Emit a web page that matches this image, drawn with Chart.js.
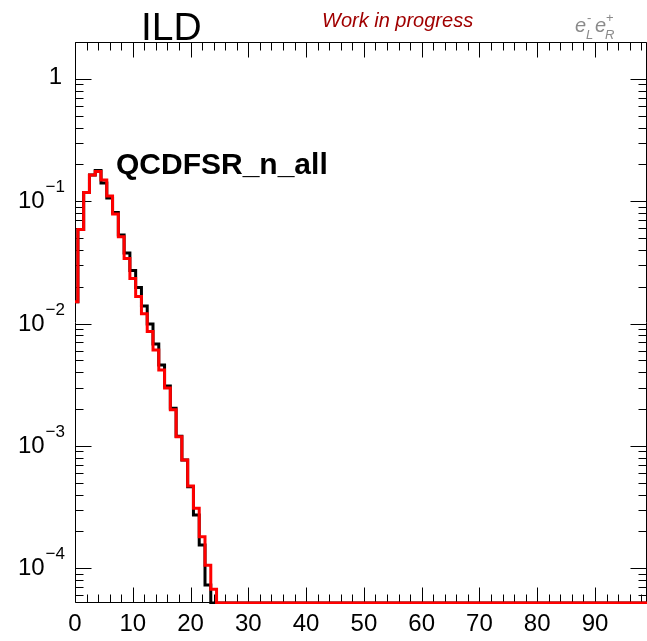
<!DOCTYPE html>
<html>
<head>
<meta charset="utf-8">
<script src="https://cdn.jsdelivr.net/npm/chart.js@4.4.1/dist/chart.umd.min.js"></script>
<style>
  html, body { margin: 0; padding: 0; background: #ffffff; }
  #wrap { width: 647px; height: 641px; position: relative; }
</style>
</head>
<body>
<div id="wrap"><canvas id="c" width="647" height="641"></canvas></div>
<script>
// Multiplicity n (bin centres, unit-width bins)
const binN = [0, 1, 2, 3, 4, 5, 6, 7, 8, 9, 10, 11, 12, 13, 14, 15, 16, 17, 18, 19, 20, 21, 22, 23, 24, 25];

// Normalised entries per bin, red histogram
const redValues = [
  0.0151, 0.0586, 0.118, 0.164, 0.1746, 0.149, 0.110, 0.0787, 0.0511, 0.0340,
  0.0233, 0.0166, 0.0120, 0.00859, 0.00608, 0.00417, 0.00297, 0.00197, 0.00119, 0.000767,
  0.000470, 0.000309, 0.000181, 0.000106, 0.0000672, 0
];

// Normalised entries per bin, black histogram
const blackValues = [
  0.0151, 0.0586, 0.118, 0.164, 0.178, 0.141, 0.106, 0.0807, 0.0530, 0.0378,
  0.0271, 0.0197, 0.0139, 0.00992, 0.00681, 0.00459, 0.00309, 0.00203, 0.00120, 0.000767,
  0.000464, 0.000272, 0.000155, 0.0000729, 0, 0
];

// Axis ranges
const xMin = 0, xMax = 99;
const yMin = 5.2e-5, yMax = 2.0;

// Tick labels
const xTickValues = [0, 10, 20, 30, 40, 50, 60, 70, 80, 90];
const xTickLabels = ['0', '10', '20', '30', '40', '50', '60', '70', '80', '90'];
const yDecadeValues = [1, 0.1, 0.01, 0.001, 0.0001];
const yDecadeExponents = ['', '\u22121', '\u22122', '\u22123', '\u22124'];

const FONT = '"Liberation Sans", Arial, Helvetica, sans-serif';

// Histogram outline: one point at each bin's lower edge, held until the next edge
function histPoints(values) {
  const pts = [];
  for (let i = 0; i < values.length; i++) {
    pts.push({ x: Math.max(binN[i] - 0.5, xMin), y: Math.max(values[i], yMin) });
  }
  pts.push({ x: xMax, y: Math.max(values[values.length - 1], yMin) });
  return pts;
}

// Frame with inward ticks on all four sides
const framePlugin = {
  id: 'frame',
  beforeDatasetsDraw(chart) {
    const ctx = chart.ctx;
    const xs = chart.scales.x, ys = chart.scales.y;
    const a = chart.chartArea;
    const L = a.left + 0.5, R = a.right - 0.5, T = a.top + 0.5, B = a.bottom - 0.5;
    ctx.save();
    ctx.strokeStyle = '#000';
    ctx.lineWidth = 1;
    ctx.beginPath();
    ctx.rect(L, T, R - L, B - T);
    ctx.stroke();

    ctx.beginPath();
    // x ticks: major every 10, minor every 2
    for (let v = xMin; v <= xMax; v += 2) {
      const px = Math.round(xs.getPixelForValue(v)) + 0.5;
      const len = (v % 10 === 0) ? 15 : 8;
      ctx.moveTo(px, B); ctx.lineTo(px, B - len);
      ctx.moveTo(px, T); ctx.lineTo(px, T + len);
    }
    // y ticks: decades long, 2..9 short
    for (let d = -5; d <= 0; d++) {
      for (let k = 1; k <= 9; k++) {
        const v = k * Math.pow(10, d);
        if (v < yMin || v > yMax) continue;
        const py = Math.round(ys.getPixelForValue(v)) + 0.5;
        const len = (k === 1) ? 16 : 8;
        ctx.moveTo(L, py); ctx.lineTo(L + len, py);
        ctx.moveTo(R, py); ctx.lineTo(R - len, py);
      }
    }
    ctx.stroke();
    ctx.restore();
  },
  afterDraw(chart) {
    const ctx = chart.ctx;
    const xs = chart.scales.x, ys = chart.scales.y;
    ctx.save();
    ctx.fillStyle = '#000';

    // x tick labels
    ctx.font = '24px ' + FONT;
    ctx.textAlign = 'center';
    ctx.textBaseline = 'alphabetic';
    xTickValues.forEach((v, i) => {
      ctx.fillText(xTickLabels[i], xs.getPixelForValue(v), 631);
    });

    // y tick labels, powers of ten
    const rightEdge = 65;
    yDecadeValues.forEach((v, i) => {
      const py = ys.getPixelForValue(v);
      const exp = yDecadeExponents[i];
      ctx.textAlign = 'right';
      if (exp === '') {
        ctx.font = '24px ' + FONT;
        ctx.fillText('1', rightEdge - 3, py + 5);
      } else {
        ctx.font = '17px ' + FONT;
        const w = ctx.measureText(exp).width;
        ctx.fillText(exp, rightEdge, py - 9);
        ctx.font = '24px ' + FONT;
        ctx.fillText('10', rightEdge - w - 1, py + 7);
      }
    });

    // Header texts
    ctx.textAlign = 'left';
    ctx.font = '39px ' + FONT;
    ctx.fillText('ILD', 141, 40);

    ctx.fillStyle = '#a00000';
    ctx.font = 'italic 20px ' + FONT;
    ctx.fillText('Work in progress', 322, 27);

    // Beam polarisation tag
    ctx.fillStyle = '#8a8a8a';
    ctx.font = 'italic 20px ' + FONT;
    ctx.fillText('e', 575, 32);
    ctx.fillText('e', 595, 32);
    ctx.font = '13px ' + FONT;
    ctx.fillText('-', 587, 22);
    ctx.fillText('+', 606, 22);
    ctx.font = 'italic 13px ' + FONT;
    ctx.fillText('L', 586, 39);
    ctx.fillText('R', 605, 39);

    // Histogram name
    ctx.fillStyle = '#000';
    ctx.font = 'bold 30px ' + FONT;
    ctx.fillText('QCDFSR_n_all', 116, 174);
    ctx.restore();
  }
};

new Chart(document.getElementById('c'), {
  type: 'line',
  data: {
    datasets: [
      {
        label: 'red',
        data: histPoints(redValues),
        borderColor: '#ff0000',
        borderWidth: 3,
        stepped: true,
        pointRadius: 0,
        fill: false,
        clip: { left: 0, top: 0, right: 0, bottom: 1 },
        order: 0
      },
      {
        label: 'black',
        data: histPoints(blackValues),
        borderColor: '#000000',
        borderWidth: 3,
        stepped: true,
        pointRadius: 0,
        fill: false,
        clip: { left: 0, top: 0, right: 0, bottom: 1 },
        order: 1
      }
    ]
  },
  options: {
    responsive: false,
    animation: false,
    devicePixelRatio: 1,
    layout: { padding: { left: 75, right: 0, top: 42, bottom: 38 } },
    scales: {
      x: { type: 'linear', min: xMin, max: xMax, display: false },
      y: { type: 'logarithmic', min: yMin, max: yMax, display: false }
    },
    plugins: { legend: { display: false }, tooltip: { enabled: false } },
    events: []
  },
  plugins: [framePlugin]
});
</script>
</body>
</html>
